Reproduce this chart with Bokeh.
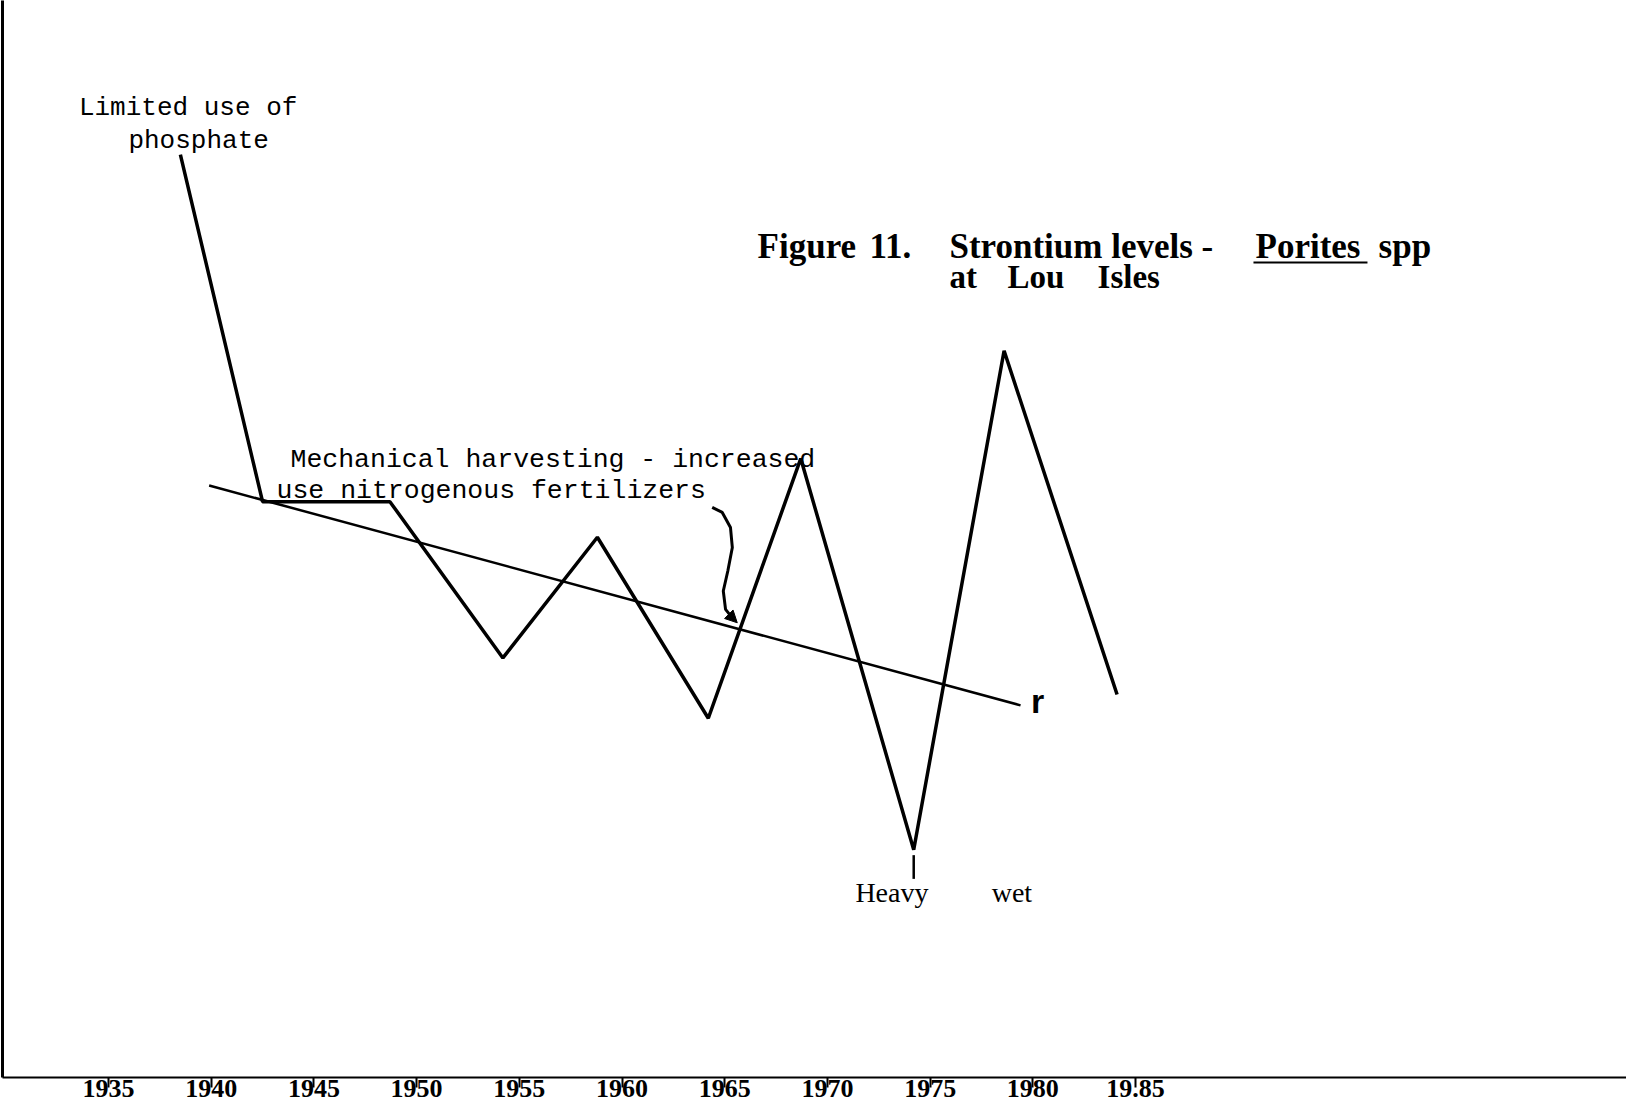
from bokeh.plotting import figure
from bokeh.models import Range1d, FixedTicker, Arrow, NormalHead
from bokeh.core.properties import value
from bokeh.embed import file_html
from bokeh.resources import INLINE

# ---- data (relative strontium level, arbitrary units) ----
years = [1938.5, 1942.5, 1948.7, 1954.2, 1958.8, 1964.2, 1968.7, 1974.2, 1978.6, 1984.1]
levels = [86.3, 54.1, 54.1, 39.6, 50.8, 34.0, 58.1, 21.8, 68.1, 36.2]

trend_years = [1939.9, 1979.4]
trend_levels = [55.6, 35.2]

tick_years = [1935, 1940, 1945, 1950, 1955, 1960, 1965, 1970, 1975, 1980, 1985]
tick_labels = {1935: "1935", 1940: "1940", 1945: "1945", 1950: "1950", 1955: "1955",
               1960: "1960", 1965: "1965", 1970: "1970", 1975: "1975", 1980: "1980",
               1985: "19.85"}

# hand-drawn pointer from the fertilizer note to the 1965 point
pointer_x = [1964.39, 1964.88, 1965.28, 1965.37, 1965.15, 1964.93, 1965.04, 1965.37]
pointer_y = [53.57, 53.10, 51.70, 49.84, 47.67, 45.81, 44.11, 43.32]

p = figure(width=1626, height=1103, output_backend="svg", toolbar_location=None,
           x_range=Range1d(1929.84, 2008.9), y_range=Range1d(0.67, 100.6),
           min_border_left=2, min_border_right=0, min_border_top=0, min_border_bottom=26)
p.background_fill_color = "white"
p.border_fill_color = "white"
p.outline_line_color = None
p.xgrid.visible = False
p.ygrid.visible = False

# x axis
xa = p.xaxis[0]
xa.ticker = FixedTicker(ticks=tick_years)
xa.major_label_overrides = tick_labels
xa.minor_tick_line_color = None
xa.major_tick_in = 0
xa.major_tick_out = 10
xa.major_tick_line_width = 2
xa.major_tick_line_color = "black"
xa.axis_line_width = 2
xa.axis_line_color = "black"
xa.major_label_standoff = -8
xa.major_label_text_font = "Liberation Serif"
xa.major_label_text_font_style = "bold"
xa.major_label_text_font_size = "26px"
xa.major_label_text_color = "black"

# y axis: only a bare vertical line
ya = p.yaxis[0]
ya.ticker = FixedTicker(ticks=[])
ya.major_tick_line_color = None
ya.minor_tick_line_color = None
ya.major_tick_out = 0
ya.major_tick_in = 0
ya.major_label_text_font_size = "0px"
ya.major_label_standoff = 0
ya.axis_line_width = 3
ya.axis_line_color = "black"

# data line and trend line
p.line(years, levels, line_width=3.5, line_color="black")
p.line(trend_years, trend_levels, line_width=2.5, line_color="black")

# small stroke under the 1974 minimum
p.segment(x0=[years[7]], y0=[levels[7] - 0.5], x1=[years[7]], y1=[levels[7] - 2.7],
          line_width=2.5, line_color="black")

# pointer arrow
p.line(pointer_x, pointer_y, line_width=3, line_color="black")
p.add_layout(Arrow(end=NormalHead(size=12, fill_color="black", line_color="black"),
                   x_start=pointer_x[-1], y_start=pointer_y[-1], x_end=1965.61, y_end=42.86,
                   line_width=3, line_color="black"))

mono = value("Liberation Mono")
serif = value("Liberation Serif")


def note(x, y, t, font, size, style="normal", align="left"):
    p.text(x=[x], y=[y], text=[t], text_font=font, text_font_size=size,
           text_font_style=style, text_baseline="middle", text_align=align, text_color="black")


note(1933.56, 90.6, "Limited use of", mono, "26px")
note(1935.97, 87.6, "phosphate", mono, "26px")
note(1943.86, 58.0, "Mechanical harvesting - increased", mono, "26.5px")
note(1943.18, 55.1, "use nitrogenous fertilizers", mono, "26.5px")

# title
note(1966.6, 77.8, "Figure", serif, "35px", "bold")
note(1972.05, 77.8, "11.", serif, "35px", "bold")
note(1975.94, 77.8, "Strontium levels -", serif, "35px", "bold")
note(1990.84, 77.8, "Porites", serif, "35px", "bold")
note(1996.83, 77.8, "spp", serif, "35px", "bold")
p.segment(x0=[1990.74], y0=[76.3], x1=[1996.29], y1=[76.3], line_width=2, line_color="black")
note(1975.94, 74.9, "at", serif, "33px", "bold")
note(1978.77, 74.9, "Lou", serif, "33px", "bold")
note(1983.15, 74.9, "Isles", serif, "33px", "bold")

note(1973.14, 17.8, "Heavy", serif, "28px", align="center")
note(1978.98, 17.8, "wet", serif, "28px", align="center")
note(1980.23, 35.6, "r", value("Liberation Sans"), "34px", "bold", "center")

open("out.html", "w").write(file_html(p, INLINE))
